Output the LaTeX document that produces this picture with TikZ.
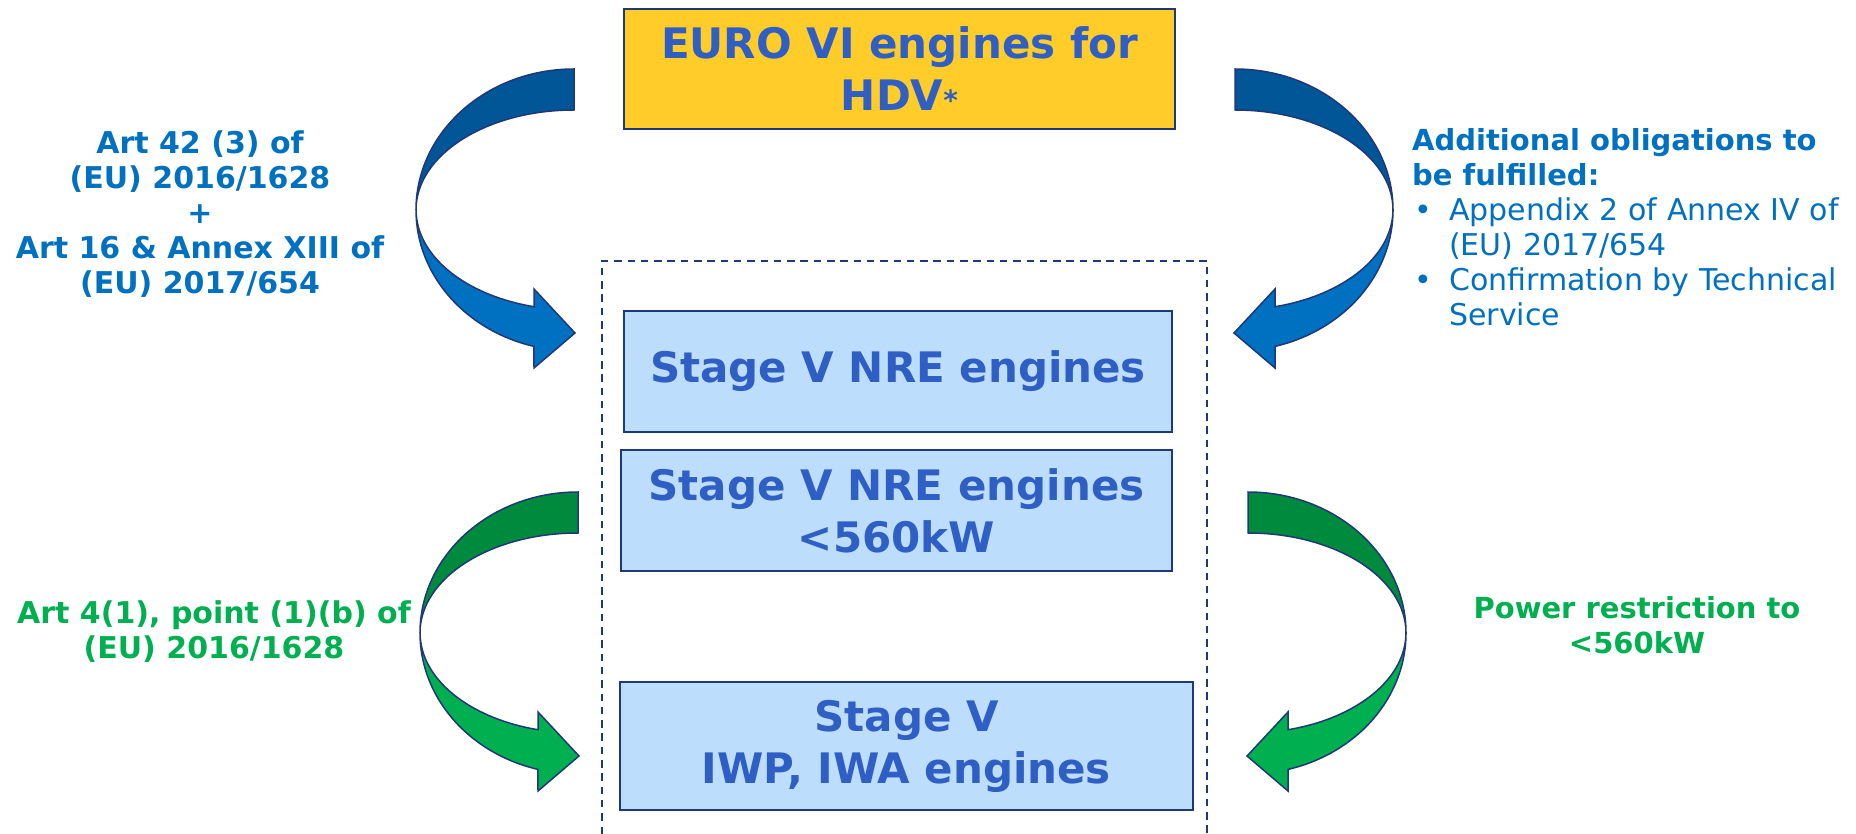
\documentclass[tikz,border=0pt]{standalone}
\usepackage{fontspec}
\setmainfont{DejaVu Sans}
\usepackage{xcolor}
\usepackage{tikz}
\usetikzlibrary{positioning}

\definecolor{navyline}{RGB}{31,56,120}
\definecolor{euroyellow}{RGB}{255,204,41}
\definecolor{stagefill}{RGB}{189,221,253}
\definecolor{stagetext}{RGB}{47,94,196}
\definecolor{lawblue}{RGB}{0,112,192}
\definecolor{lawgreen}{RGB}{0,176,80}
\definecolor{bluedark}{RGB}{0,86,150}
\definecolor{bluelight}{RGB}{0,112,192}
\definecolor{greendark}{RGB}{0,138,62}
\definecolor{greenlight}{RGB}{0,176,80}

\newcommand{\boxfont}{\fontsize{42}{52}\selectfont\bfseries}
\newcommand{\sidefont}{\fontsize{30}{35}\selectfont}
\newcommand{\headfont}{\fontsize{29}{35}\selectfont\bfseries}
\newcommand{\bul}{\makebox[37pt][l]{\hspace{2pt}\textbullet}}

% twisted block arrow: #1 twist point, #2 xscale (1 or -1), #3 back colour, #4 front colour
\newcommand{\twistarrow}[4]{%
  \begin{scope}[shift={(#1)}, xscale=#2]
    \filldraw[ribbon, fill=#3] (0,0)
      arc[start angle=180, end angle=90, x radius=158pt, y radius=141pt]
      -- ++(0,-41)
      arc[start angle=90, end angle=180, x radius=158pt, y radius=100pt] -- cycle;
    \filldraw[ribbon, fill=#4] (0,0)
      arc[start angle=180, end angle=255.3, x radius=158pt, y radius=141pt]
      -- (118,-158) -- (159,-123) -- (118,-79) -- (118,-96.7)
      arc[start angle=255.3, end angle=180, x radius=158pt, y radius=100pt] -- cycle;
  \end{scope}}

\begin{document}
\begin{tikzpicture}[x=1pt, y=1pt, auto]
    % Define styles
    \tikzstyle{eurobox} = [rectangle, minimum width=551pt, minimum height=120pt, align=center, draw=navyline, line width=2pt, fill=euroyellow, text=stagetext, font=\boxfont]
    \tikzstyle{stagebox} = [rectangle, minimum width=548pt, minimum height=121pt, align=center, draw=navyline, line width=2pt, fill=stagefill, text=stagetext, font=\boxfont]
    \tikzstyle{lawtext} = [inner sep=0pt, align=center, font=\sidefont]
    \tikzstyle{ribbon} = [draw=navyline, line width=1.5pt]
    \tikzstyle{frame} = [draw=navyline, line width=2pt, dash pattern=on 7.5pt off 5.8pt]

    \useasboundingbox (0,0) rectangle (1856,-834);

    % Dashed frame
    \draw [frame] (602,-834) -- (602,-261) -- (1207,-261) -- (1207,-834);

    % Nodes
    \node [eurobox] (euro) at (899.5,-69) {EURO VI engines for\\HDV{\fontsize{28}{28}\selectfont *}};
    \node [stagebox] (nre) at (898,-371.5) {Stage V NRE engines};
    \node [stagebox, below=16pt of nre, minimum width=551pt, xshift=-1.5pt] (nrelow) {Stage V NRE engines\\<560kW};
    \node [stagebox, below=109pt of nrelow, minimum width=573pt, minimum height=128pt, xshift=10pt] (iwp) {Stage V\\IWP, IWA engines};

    \node [lawtext, text=lawblue, font=\sidefont\bfseries] (artleft) at (200,-214) {Art 42 (3) of\\(EU) 2016/1628\\+\\Art 16 \& Annex XIII of\\(EU) 2017/654};
    \node [lawtext, text=lawblue, anchor=west, align=left] (oblig) at (1412,-227) {{\headfont Additional obligations to}\\{\headfont be fulfilled:}\\\bul Appendix 2 of Annex IV of\\\hspace*{37pt}(EU) 2017/654\\\bul Confirmation by Technical\\\hspace*{37pt}Service};
    \node [lawtext, text=lawgreen, font=\sidefont\bfseries] (artgreen) at (214,-632) {Art 4(1), point (1)(b) of\\(EU) 2016/1628};
    \node [lawtext, text=lawgreen, font=\headfont] (power) at (1637,-625) {Power restriction to\\<560kW};

    % Arrows
    \coordinate (twistA) at (416,-210);
    \coordinate (twistB) at (1393,-210);
    \coordinate (twistC) at (420,-633);
    \coordinate (twistD) at (1406,-633);
    \twistarrow{twistA}{1}{bluedark}{bluelight}
    \twistarrow{twistB}{-1}{bluedark}{bluelight}
    \twistarrow{twistC}{1}{greendark}{greenlight}
    \twistarrow{twistD}{-1}{greendark}{greenlight}

\end{tikzpicture}
\end{document}
